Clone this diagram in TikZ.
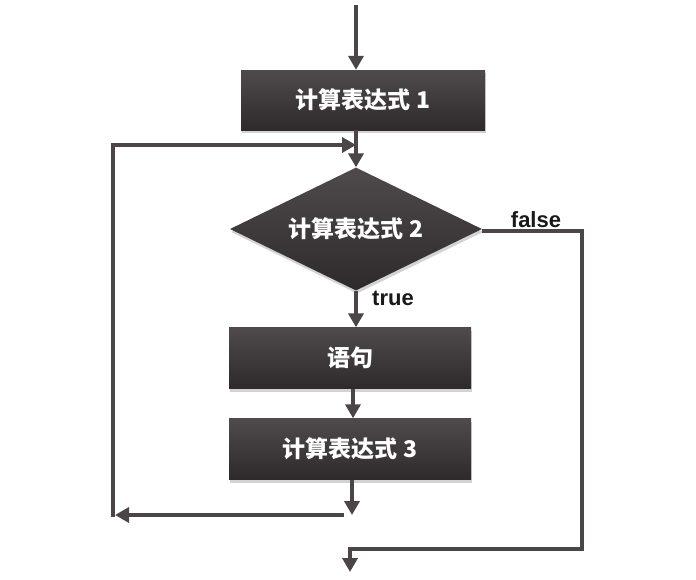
\documentclass[tikz,border=0pt]{standalone}
\usepackage{fontspec}
\setmainfont{Liberation Sans}
\newfontfamily\cjk{Noto Sans CJK SC}
\usetikzlibrary{arrows.meta,shapes.geometric,shadows}
\definecolor{boxtop}{HTML}{4F4B4C}
\definecolor{boxbot}{HTML}{2E2A2B}
\definecolor{linegray}{HTML}{4A4647}
\tikzset{
  stepbox/.style={rectangle, top color=boxtop, bottom color=boxbot, draw=none,
    minimum width=242pt, minimum height=61pt, inner sep=0pt, text=white,
    font=\cjk\bfseries\fontsize{23}{23}\selectfont,
    drop shadow={shadow xshift=1pt, shadow yshift=-3pt, opacity=.35}},
  decision/.style={diamond, aspect=2.05, top color=boxtop, bottom color=boxbot, draw=none,
    minimum width=252pt, minimum height=123pt, inner sep=0pt, text=white,
    font=\cjk\bfseries\fontsize{23}{23}\selectfont,
    drop shadow={shadow xshift=1pt, shadow yshift=-3pt, opacity=.35}},
  conn/.style={draw=linegray, line width=4.5pt},
  arr/.style={conn, -{Triangle[width=15pt,length=14pt]}},
  lbl/.style={text=black!90, font=\bfseries\fontsize{22}{22}\selectfont, inner sep=0pt}
}
\begin{document}
\begin{tikzpicture}[x=1pt,y=-1pt]
\useasboundingbox (0,0) rectangle (696,579);
\node[stepbox, minimum width=244pt, minimum height=60pt] (b1) at (363,100) {计算表达式 1};
\node[decision] (d) at (356,229) {计算表达式 2};
\node[stepbox] (b2) at (350,358) {语句};
\node[stepbox] (b3) at (350,449) {计算表达式 3};
\coordinate (top) at (356,5);
\coordinate (j) at (356,145);
\coordinate (c1) at (352,515);
\coordinate (c2) at (115,515);
\coordinate (c3) at (113,145);
\coordinate (f1) at (582,231);
\coordinate (f2) at (582,549);
\coordinate (f3) at (350,549);
\coordinate (fend) at (350,572);
\node[lbl] (lf) at (536,220) {false};
\node[lbl] (lt) at (393,298) {true};
% flow
\draw[arr] (top) -- (top |- b1.north);
\draw[conn] (top |- b1.south) -- (j);
\draw[arr] (j) -- (d.north);
\draw[arr] (d.south) -- (d.south |- b2.north);
\draw[arr] (b2.south -| 353,0) -- (353,0 |- b3.north);
\draw[arr] (b3.south -| c1) -- (c1);
\draw[arr] (c1) ++(-8,0) -- (c2);
\draw[conn, line cap=rect] (113,515) -- (c3) -- (j -| 330,0);
\draw[arr] (c3) -- (j);
% false branch
\draw[conn, line join=miter] (d.east |- f1) -- (f1) -- (f2) -- (f3);
\draw[arr] (f3) ++(0,-2) -- (fend);
\end{tikzpicture}
\end{document}
